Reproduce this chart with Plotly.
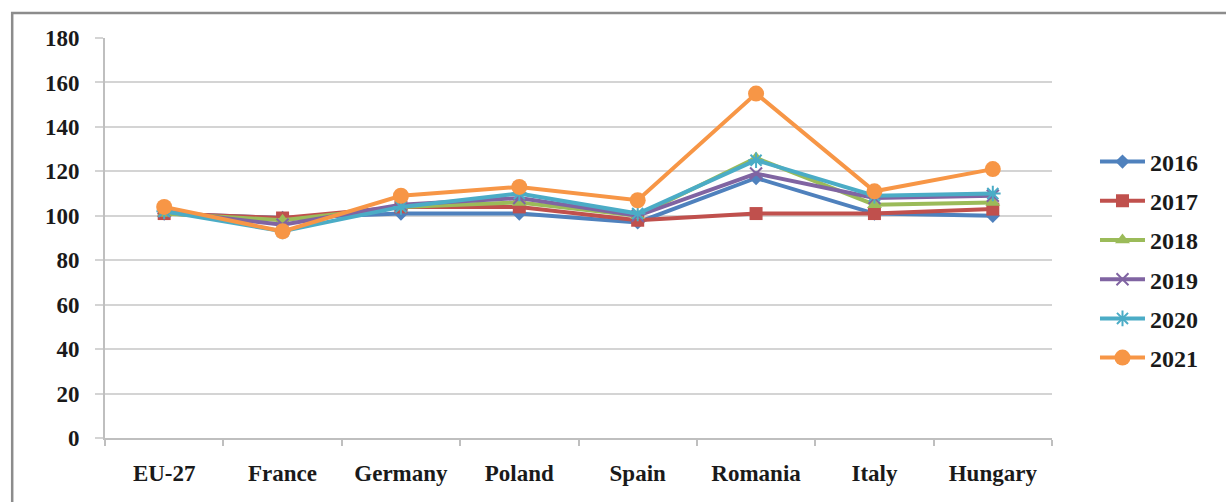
import plotly.graph_objects as go

# Index values by country and year
countries = ["EU-27", "France", "Germany", "Poland", "Spain", "Romania", "Italy", "Hungary"]
years = ["2016", "2017", "2018", "2019", "2020", "2021"]

v2016 = [101, 99, 101, 101, 97, 117, 101, 100]
v2017 = [101, 99, 104, 104, 98, 101, 101, 103]
v2018 = [101, 98, 104, 106, 100, 126, 105, 106]
v2019 = [102, 96, 105, 108, 100, 119, 108, 109]
v2020 = [102, 93, 104, 110, 101, 125, 109, 110]
v2021 = [104, 93, 109, 113, 107, 155, 111, 121]

y_ticks = [0, 20, 40, 60, 80, 100, 120, 140, 160, 180]

series = [v2016, v2017, v2018, v2019, v2020, v2021]
colors = ["#4F81BD", "#C0504D", "#9BBB59", "#8064A2", "#4BACC6", "#F79646"]
symbols = ["diamond", "square", "triangle-up", "x-thin", "asterisk", "circle"]
sizes = [11, 13, 13, 12, 13, 16]

FONT = "Liberation Serif"
TEXT = "#1a1a1a"
GRID = "#d4d4d4"


def label_font(size):
    return dict(family=FONT, size=size, color=TEXT, weight="bold")


fig = go.Figure()
for name, vals, col, sym, sz in zip(years, series, colors, symbols, sizes):
    marker = dict(symbol=sym, size=sz, color=col)
    if sym in ("x-thin", "asterisk"):
        marker["line"] = dict(color=col, width=2)
    fig.add_trace(go.Scatter(
        x=countries, y=vals, name=name, mode="lines+markers",
        line=dict(color=col, width=4), marker=marker,
        legendgroup=name,
    ))

fig.update_layout(
    width=1226, height=502,
    margin=dict(l=105, r=174, t=38, b=64),
    paper_bgcolor="white", plot_bgcolor="white",
    font=label_font(23),
    showlegend=True,
    legend=dict(
        x=1.0454, xanchor="left", y=0.445, yanchor="middle",
        font=label_font(24),
        traceorder="grouped", tracegroupgap=5,
        itemwidth=45, bgcolor="rgba(0,0,0,0)",
    ),
    xaxis=dict(
        type="category", showgrid=False,
        showline=True, linecolor="#bfbfbf", linewidth=2,
        ticks="outside", tickson="boundaries", ticklen=6,
        tickcolor="#bfbfbf", tickwidth=2,
        ticklabelstandoff=13,
        tickfont=label_font(23),
        range=[-0.5, len(countries) - 0.5],
    ),
    yaxis=dict(
        range=[0, 180], tickvals=y_ticks,
        showgrid=True, gridcolor=GRID, gridwidth=2,
        showline=True, linecolor="#bfbfbf", linewidth=2,
        ticks="outside", ticklen=8, tickcolor=GRID, tickwidth=2,
        ticklabelstandoff=11, zeroline=False,
        tickfont=label_font(23),
    ),
    shapes=[dict(
        type="rect", xref="paper", yref="paper",
        x0=-0.098, x1=1.4, y0=-0.3, y1=1.0625,
        line=dict(color="#8c8c8c", width=2.5), fillcolor="rgba(0,0,0,0)",
        layer="below",
    )],
)

fig.write_html("out.html")
